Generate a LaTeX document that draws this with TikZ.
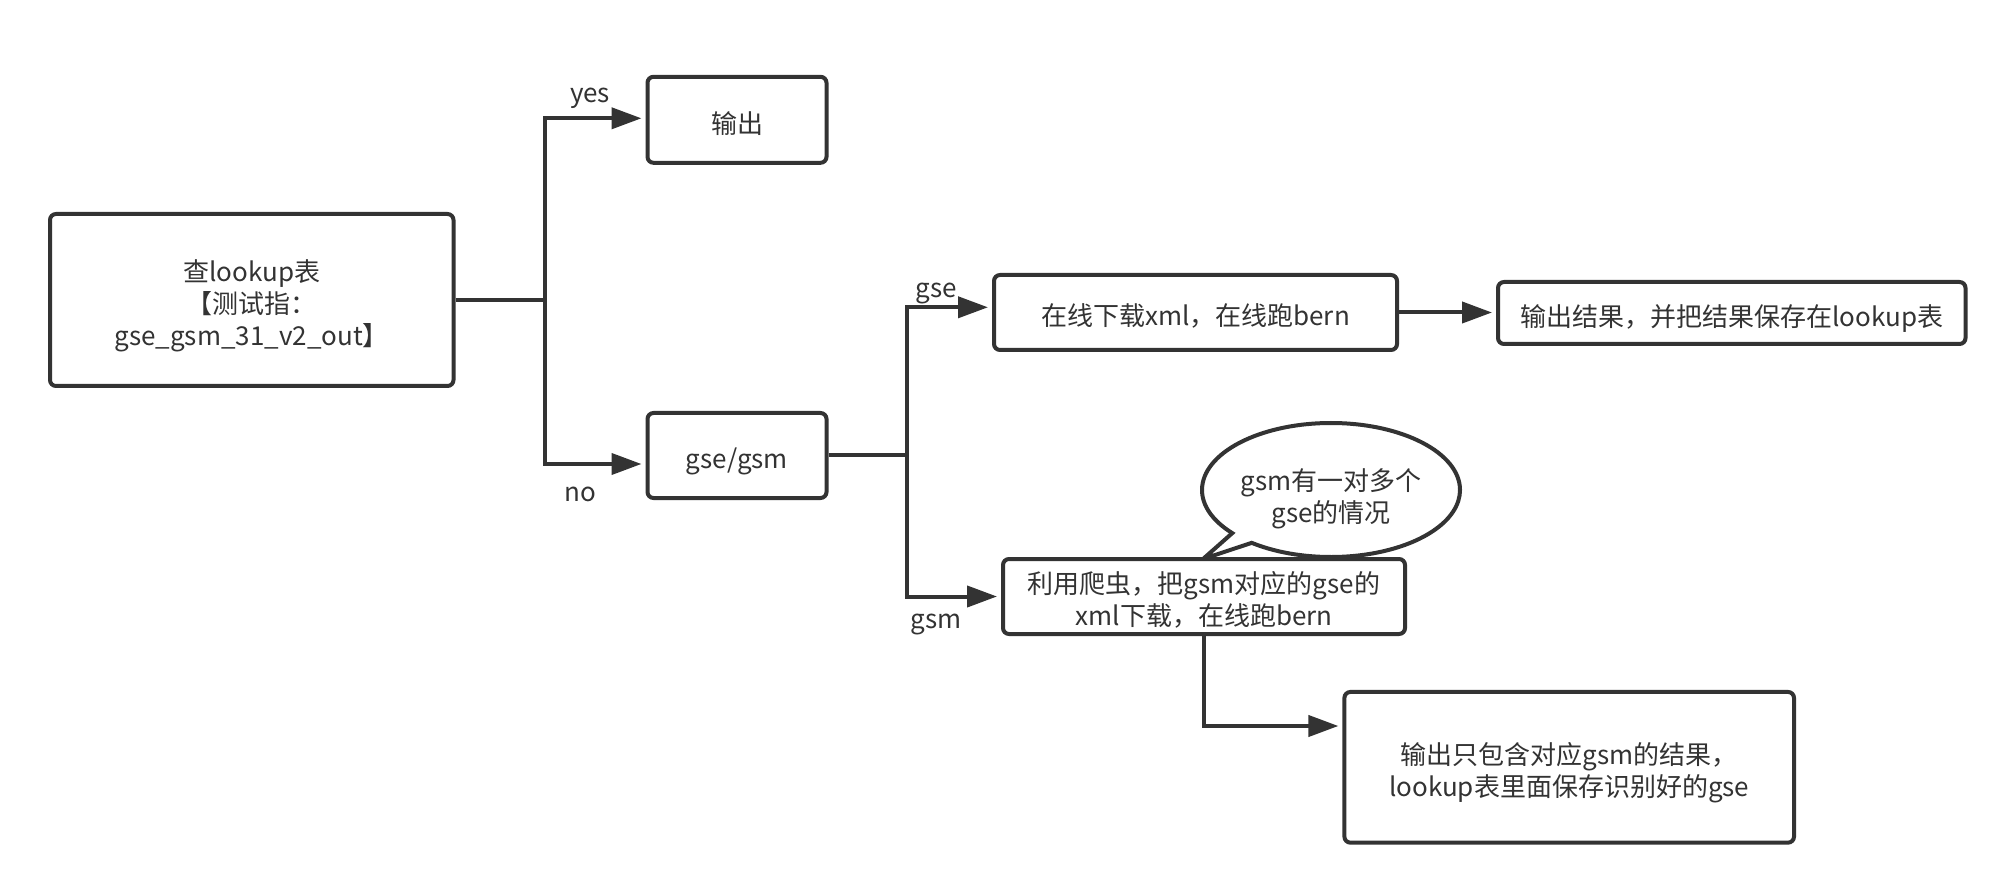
\documentclass[tikz,border=0pt]{standalone}
\usepackage{fontspec}
\setmainfont{Noto Sans CJK SC}
\usetikzlibrary{arrows.meta,shapes.callouts,shapes.geometric}
\definecolor{dk}{HTML}{333333}
\newcommand\mytxt[2][-3.5pt]{\raisebox{#1}[\height][\depth]{\begin{tabular}{@{}c@{}}#2\end{tabular}}}
\begin{document}
\begin{tikzpicture}[x=0.5pt,y=-0.5pt,
  font=\fontsize{13pt}{16pt}\selectfont,
  box/.style={draw=dk,line width=2pt,rounded corners=3pt,text=dk,inner sep=0pt,fill=white},
  conn/.style={draw=dk,line width=2pt},
  arr/.style={conn,-{Triangle[length=15pt,width=10.5pt]},shorten >=2pt},
  lbl/.style={text=dk,inner sep=0pt}]
\useasboundingbox[fill=white] (0,0) rectangle (2016,892);

\node[ellipse callout,draw=dk,line width=2pt,fill=white,text=dk,
  minimum width=129pt,minimum height=67pt,inner sep=0pt,
  callout absolute pointer={(1203,559)},callout pointer arc=12] (bub) at (1331,490) {\mytxt[-4.8pt]{gsm有一对多个\\gse的情况}};

\node[box,minimum width=201.75pt,minimum height=86pt] (A) at (251.75,300) {\mytxt{查lookup表\\【测试指：\\gse\_gsm\_31\_v2\_out】}};
\node[box,minimum width=89.5pt,minimum height=43pt] (out1) at (737,119.8) {\mytxt{输出}};
\node[box,minimum width=89.5pt,minimum height=42.5pt] (gg) at (737,455.5) {\mytxt{gse/gsm}};
\node[box,minimum width=201.5pt,minimum height=37.5pt] (dl) at (1195.5,312.5) {\mytxt{在线下载xml，在线跑bern}};
\node[box,minimum width=233.75pt,minimum height=31pt] (res) at (1731.75,313) {\mytxt{输出结果，并把结果保存在lookup表}};
\node[box,minimum width=201pt,minimum height=37.5pt] (cr) at (1204,596.5) {\mytxt{利用爬虫，把gsm对应的gse的\\xml下载，在线跑bern}};
\node[box,minimum width=224.8pt,minimum height=75.35pt] (fin) at (1569.2,767.3) {\mytxt{输出只包含对应gsm的结果，\\lookup表里面保存识别好的gse}};

\coordinate (j1) at (545,300);
\draw[conn] (A.east) -- (j1);
\draw[arr] (j1) |- ([yshift=0.75pt]out1.west);
\draw[arr] (j1) |- ([yshift=-4.25pt]gg.west);

\coordinate (j2) at (907,455.5);
\draw[conn] (gg.east) -- (j2);
\draw[arr] (j2) |- ([yshift=2.6pt]dl.west);
\draw[arr] (j2) |- (cr.west);
\draw[arr] (dl.east) -- (dl.east -| res.west);
\draw[arr] (cr.south) |- ([yshift=20.65pt]fin.west);

\node[lbl] (lyes) at (590,98) {yes};
\node[lbl] (lno) at (580,494) {no};
\node[lbl] (lgse) at (936,294) {gse};
\node[lbl] (lgsm) at (936,625) {gsm};
\end{tikzpicture}
\end{document}
